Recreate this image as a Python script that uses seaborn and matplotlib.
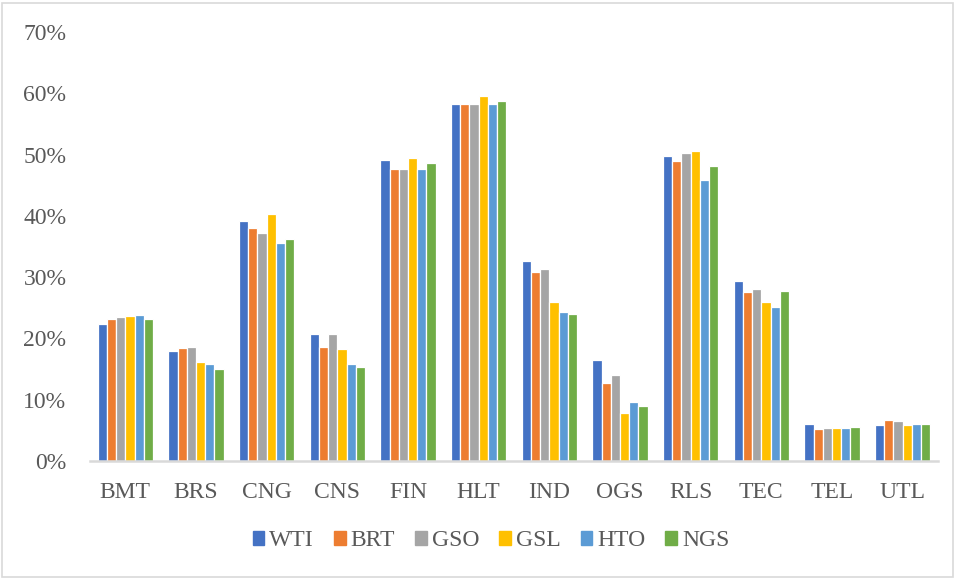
import pandas as pd
import matplotlib.pyplot as plt
import matplotlib.patches as mpatches
import seaborn as sns
from matplotlib.ticker import FuncFormatter

# ================= style =================
sns.set_style("white")
plt.rcParams["font.family"] = ["Liberation Serif", "DejaVu Serif"]
TEXT_C = "#595959"

# ================= data (share, %) =================
sectors = ["BMT", "BRS", "CNG", "CNS", "FIN", "HLT", "IND", "OGS", "RLS", "TEC", "TEL", "UTL"]
series = ["WTI", "BRT", "GSO", "GSL", "HTO", "NGS"]

wti = [22.3, 17.9, 39.1, 20.7, 49.1, 58.2, 32.6, 16.4, 49.8, 29.3, 6.0, 5.8]
brt = [23.2, 18.4, 38.0, 18.6, 47.7, 58.3, 30.8, 12.7, 49.0, 27.6, 5.2, 6.7]
gso = [23.5, 18.6, 37.2, 20.8, 47.7, 58.3, 31.3, 14.0, 50.2, 28.1, 5.4, 6.6]
gsl = [23.7, 16.2, 40.3, 18.3, 49.4, 59.5, 25.9, 7.8, 50.6, 25.9, 5.4, 5.9]
hto = [23.8, 15.9, 35.6, 15.8, 47.7, 58.2, 24.3, 9.6, 45.8, 25.2, 5.45, 6.1]
ngs = [23.1, 15.0, 36.2, 15.3, 48.7, 58.7, 24.0, 9.0, 48.2, 27.7, 5.5, 6.0]

colors = ["#4472C4", "#ED7D31", "#A5A5A5", "#FFC000", "#5B9BD5", "#70AD47"]

# long form table for seaborn
values = [wti, brt, gso, gsl, hto, ngs]
rows = []
for name, vals in zip(series, values):
    for sec, v in zip(sectors, vals):
        rows.append({"sector": sec, "series": name, "share": v / 100})
df = pd.DataFrame(rows)

# ================= plot =================
fig = plt.figure(figsize=(9.56, 5.79), dpi=100)
ax = fig.add_axes([90 / 956, 1 - 461 / 579, (938 - 90) / 956, (461 - 32) / 579])

sns.barplot(
    data=df, x="sector", y="share", hue="series",
    order=sectors, hue_order=series, palette=colors, saturation=1,
    width=0.78, edgecolor="white", linewidth=0.9,
    errorbar=None, legend=False, ax=ax,
)

ax.set_ylim(0, 0.7)
ax.set_yticks([i / 10 for i in range(8)])
ax.yaxis.set_major_formatter(FuncFormatter(lambda v, _: f"{v * 100:.0f}%"))
ax.set_xlim(-0.5, len(sectors) - 0.5)
ax.set_xlabel("")
ax.set_ylabel("")
ax.tick_params(axis="both", length=0, labelsize=17, labelcolor=TEXT_C)
ax.tick_params(axis="x", pad=15)
ax.tick_params(axis="y", pad=17)

for side in ["top", "right", "left"]:
    ax.spines[side].set_visible(False)
ax.spines["bottom"].set_color("#D9D9D9")
ax.spines["bottom"].set_linewidth(1.8)

# legend below the axis
handles = [mpatches.Patch(color=c, label=s) for s, c in zip(series, colors)]
fig.legend(
    handles=handles, loc="center", bbox_to_anchor=(491 / 956, 1 - 541 / 579),
    ncol=6, frameon=False, prop={"family": "Liberation Serif", "size": 17},
    labelcolor=TEXT_C,
    handlelength=0.5, handleheight=0.5, handletextpad=0.2, columnspacing=0.85,
)

# chart area border
fig.patches.append(mpatches.Rectangle(
    (2 / 956, 2 / 579), 951 / 956, 574 / 579, transform=fig.transFigure,
    fill=False, edgecolor="#D9D9D9", linewidth=1.2,
))

fig.savefig("out.png", dpi=100)
